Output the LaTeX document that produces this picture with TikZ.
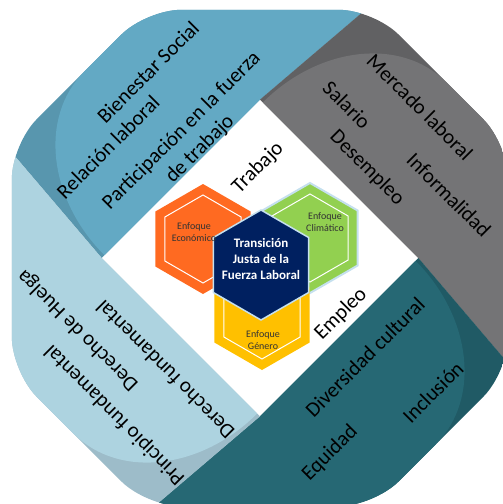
\documentclass[tikz,border=0pt]{standalone}
\usepackage{fontspec}
\setmainfont{Carlito}
\usetikzlibrary{shapes.geometric}

\definecolor{blueL}{HTML}{63A9C4}
\definecolor{blueD}{HTML}{5896AE}
\definecolor{grayL}{HTML}{747476}
\definecolor{grayD}{HTML}{616163}
\definecolor{tealL}{HTML}{266874}
\definecolor{tealD}{HTML}{205A65}
\definecolor{paleL}{HTML}{ADD3E0}
\definecolor{paleD}{HTML}{9DBCC9}
\definecolor{hexorange}{HTML}{FF6A21}
\definecolor{hexgreen}{HTML}{92D050}
\definecolor{hexyellow}{HTML}{FFC000}
\definecolor{hexnavy}{HTML}{002060}
\definecolor{hexrim}{HTML}{C5E0EE}

\begin{document}
\begin{tikzpicture}[x=1pt, y=-1pt,
    hexa/.style={regular polygon, regular polygon sides=6, shape border rotate=30, inner sep=0pt, minimum size=110pt},
    hexin/.style={regular polygon, regular polygon sides=6, shape border rotate=30, inner sep=0pt, minimum size=88pt, draw=white, line width=1pt},
    band/.style={font=\fontsize{21}{26}\selectfont, align=center, inner sep=0pt},
    small/.style={font=\fontsize{10}{12.5}\selectfont, text=black!80, align=center, inner sep=0pt}]
    \useasboundingbox (0,0) rectangle (503,504);

    % the four bands round the white square
    \begin{scope}[shift={(260,258)}, x={(0.7071pt,0.7071pt)}, y={(-0.7071pt,0.7071pt)}]
        \clip[rounded corners=35pt] (256,95) -- (95,256) -- (-95,256) -- (-256,95) -- (-256,-95) -- (-95,-256) -- (95,-256) -- (256,-95) -- cycle;
        \foreach \k/\dk/\lt in {0/blueD/blueL, 1/grayD/grayL, 2/tealD/tealL, 3/paleD/paleL} {
            \begin{scope}[rotate=-90*\k]
                \fill[\dk] (-112,112) -- (-97,300) -- (300,300) -- (300,97) -- (112,112) -- cycle;
                \fill[\lt] (-108,112) arc[start angle=180, end angle=90, x radius=115, y radius=144] -- (7,300) -- (300,300) -- (300,97) -- (112,112) -- cycle;
            \end{scope}
        }
    \end{scope}

    \node[band, rotate=45] (bien) at (148,72) {Bienestar Social};
    \node[band, rotate=45] (rel) at (108,147) {Relación laboral};
    \node[band, rotate=45] (part) at (191,140) {Participación en la fuerza\\de trabajo};

    \node[band, rotate=-45] (merc) at (420,107) {Mercado laboral};
    \node[band, rotate=-45] (sal) at (347,105) {Salario};
    \node[band, rotate=-45] (des) at (367,168) {Desempleo};
    \node[band, rotate=-45] (inf) at (449,195) {Informalidad};

    \node[band, rotate=45] (div) at (365,357) {Diversidad cultural};
    \node[band, rotate=45] (inc) at (433,392) {Inclusión};
    \node[band, rotate=45] (equ) at (330,453) {Equidad};

    \node[band, rotate=135] (huel) at (78,330) {Derecho de Huelga};
    \node[band, rotate=135] (dfun) at (165,370) {Derecho fundamental};
    \node[band, rotate=135] (prin) at (115,415) {Principio fundamental};

    \node[band, rotate=45] (trab) at (258,168) {Trabajo};
    \node[band, rotate=45] (empl) at (341,314) {Empleo};

    % hexagons
    \node[hexa, fill=hexorange] (eco) at (203,239) {};
    \node[hexin] (ecoin) at (eco) {};
    \node[hexa, fill=hexgreen, draw=hexrim, line width=2pt] (cli) at (310,238) {};
    \node[hexin] (cliin) at (cli) {};
    \node[hexa, fill=hexyellow] (gen) at (262,315) {};
    \node[hexin] (genin) at (gen) {};
    \node[hexa, fill=hexnavy, draw=hexrim, line width=1.5pt] (tjfl) at (261,265) {};

    \node[small] (ecot) at (194,232) {Enfoque\\Económico};
    \node[small] (clit) at (325,222) {Enfoque\\Climático};
    \node[small] (gent) at (263,340) {Enfoque\\Género};
    \node[font=\fontsize{13}{16}\selectfont\bfseries, text=white, align=center, inner sep=0pt] (tjflt) at (261,259) {Transición\\Justa de la\\Fuerza Laboral};
\end{tikzpicture}
\end{document}
